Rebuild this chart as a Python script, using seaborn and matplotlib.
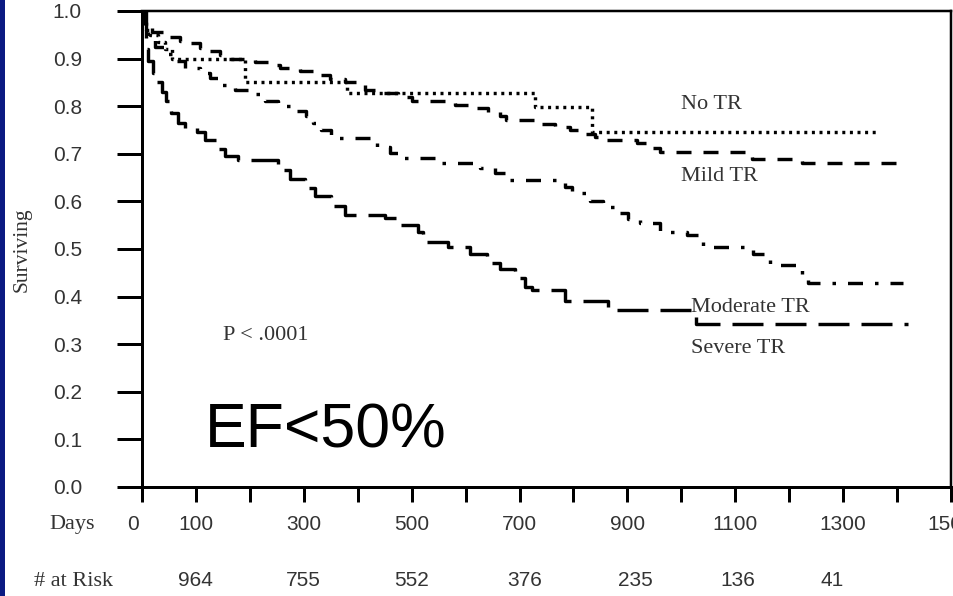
import numpy as np
import pandas as pd
import matplotlib
matplotlib.use("Agg")
import matplotlib.pyplot as plt
from matplotlib.patches import Rectangle
from matplotlib.transforms import ScaledTranslation
import seaborn as sns

# ---------------- data ----------------
no_tr_days = [0, 2, 7, 15, 30, 43, 56, 191, 380, 729, 834, 1365]
no_tr_surv = [1.0, 0.98, 0.96, 0.95, 0.935, 0.92, 0.90, 0.85, 0.828, 0.798, 0.746, 0.746]

mild_days = [0, 6, 19, 52, 70, 89, 108, 126, 145, 156, 210, 234, 256, 293, 321, 349,
             376, 413, 441, 475, 501, 580, 608, 642, 664, 675, 738, 766, 794, 812,
             840, 859, 918, 942, 960, 1131, 1224, 1411]
mild_surv = [1.0, 0.965, 0.955, 0.945, 0.938, 0.932, 0.922, 0.915, 0.908, 0.90, 0.893,
             0.886, 0.88, 0.874, 0.866, 0.858, 0.85, 0.835, 0.828, 0.82, 0.81, 0.803,
             0.796, 0.788, 0.78, 0.77, 0.762, 0.756, 0.75, 0.742, 0.735, 0.729, 0.722,
             0.712, 0.704, 0.69, 0.681, 0.681]

moderate_days = [0, 2, 11, 24, 48, 63, 80, 108, 126, 145, 172, 200, 228, 252, 286, 304,
                 317, 332, 350, 363, 436, 460, 478, 553, 627, 655, 673, 784, 797, 831,
                 855, 883, 901, 923, 960, 1011, 1040, 1133, 1164, 1224, 1235, 1411]
moderate_surv = [1.0, 0.96, 0.94, 0.925, 0.91, 0.895, 0.88, 0.87, 0.86, 0.845, 0.835,
                 0.825, 0.81, 0.80, 0.79, 0.78, 0.765, 0.75, 0.737, 0.733, 0.714, 0.702,
                 0.692, 0.681, 0.67, 0.66, 0.646, 0.63, 0.618, 0.60, 0.588, 0.575, 0.562,
                 0.555, 0.536, 0.529, 0.504, 0.49, 0.466, 0.445, 0.429, 0.429]

severe_days = [0, 7, 11, 20, 28, 37, 45, 54, 67, 80, 102, 117, 137, 154, 178, 252, 274,
               302, 321, 350, 376, 451, 475, 512, 521, 567, 608, 640, 664, 692, 710, 723,
               784, 864, 1027, 1420]
severe_surv = [1.0, 0.92, 0.895, 0.87, 0.85, 0.83, 0.81, 0.785, 0.765, 0.755, 0.745,
               0.73, 0.71, 0.695, 0.688, 0.665, 0.648, 0.628, 0.612, 0.59, 0.572, 0.565,
               0.55, 0.535, 0.515, 0.505, 0.49, 0.47, 0.458, 0.44, 0.42, 0.414, 0.39,
               0.372, 0.342, 0.342]

groups = ["No TR", "Mild TR", "Moderate TR", "Severe TR"]

x_ticks = [0, 100, 200, 300, 400, 500, 600, 700, 800, 900, 1000, 1100, 1200, 1300, 1400, 1500]
x_labels = ["0", "100", "", "300", "", "500", "", "700", "", "900", "", "1100", "", "1300", "", "1500"]
y_ticks = [0.0, 0.1, 0.2, 0.3, 0.4, 0.5, 0.6, 0.7, 0.8, 0.9, 1.0]

risk_days = [100, 300, 500, 710, 915, 1105, 1280]
risk_counts = [964, 755, 552, 376, 235, 136, 41]

# ---------------- build table ----------------
frames = []
for name, d, s in [("No TR", no_tr_days, no_tr_surv),
                   ("Mild TR", mild_days, mild_surv),
                   ("Moderate TR", moderate_days, moderate_surv),
                   ("Severe TR", severe_days, severe_surv)]:
    frames.append(pd.DataFrame({"Days": d, "Surviving": s, "Group": name}))
df = pd.concat(frames, ignore_index=True)

# ---------------- style ----------------
sns.set_theme(style="white")
plt.rcParams["lines.scale_dashes"] = False
plt.rcParams["font.family"] = ["Liberation Sans", "DejaVu Sans"]

W, H, DPI = 954, 596, 100
fig = plt.figure(figsize=(W / DPI, H / DPI), dpi=DPI)
fig.patch.set_facecolor("white")
ax = fig.add_axes([142 / W, 1 - 487 / H, (951 - 142) / W, (487 - 11) / H])

pt = 72 / DPI  # points per pixel
dash_map = {
    "No TR": (3.0 * pt, 4.6 * pt),
    "Mild TR": (15 * pt, 12 * pt),
    "Moderate TR": (15 * pt, 12 * pt, 3.5 * pt, 12 * pt),
    "Severe TR": (31 * pt, 12 * pt),
}

sns.lineplot(data=df, x="Days", y="Surviving", style="Group", style_order=groups,
             dashes=dash_map, color="black", linewidth=3.4 * pt,
             estimator=None, errorbar=None, legend=False,
             drawstyle="steps-post", ax=ax)

ax.set_xlim(0, 1500)
ax.set_ylim(0, 1.0)
ax.set_xlabel("")
ax.set_ylabel("")

for side in ["left", "bottom", "top", "right"]:
    ax.spines[side].set_visible(True)
    ax.spines[side].set_color("black")
ax.spines["left"].set_linewidth(3.0 * pt)
ax.spines["bottom"].set_linewidth(3.0 * pt)
ax.spines["top"].set_linewidth(2.5 * pt)
ax.spines["right"].set_linewidth(2.5 * pt)

tick_color = "#333333"
ax.set_yticks(y_ticks)
ax.set_yticklabels([f"{v:.1f}" for v in y_ticks])
ax.tick_params(axis="y", direction="out", length=25 * pt, width=3 * pt, pad=35 * pt,
               labelsize=15, labelcolor=tick_color, color="black", left=True)
ax.set_xticks(x_ticks)
ax.set_xticklabels(x_labels)
ax.tick_params(axis="x", direction="out", length=15 * pt, width=3 * pt, pad=12.5 * pt,
               labelsize=15, labelcolor=tick_color, color="black", bottom=True)
# shift "0" slightly left as in the reference
lab0 = ax.get_xticklabels()[0]
lab0.set_transform(lab0.get_transform() + ScaledTranslation(-9 / DPI, 0, fig.dpi_scale_trans))

serif = ["Liberation Serif", "DejaVu Serif"]
txt_color = "#333333"

# axis captions
fig.text(22 / W, 1 - 250 / H, "Surviving", rotation=90, ha="center", va="center",
         fontsize=15.5, family=serif, color=txt_color)
fig.text(72 / W, 1 - 525 / H, "Days", ha="center", va="center",
         fontsize=16, family=serif, color=txt_color)
fig.text(74 / W, 1 - 581 / H, "# at Risk", ha="center", va="center",
         fontsize=16, family=serif, color=txt_color)

# at-risk numbers below the axis
for d, n in zip(risk_days, risk_counts):
    ax.annotate(str(n), xy=(d, 0), xycoords=("data", "axes fraction"),
                xytext=(0, -(580 - 487) * pt), textcoords="offset points",
                ha="center", va="center", fontsize=15, color=tick_color)

# curve labels
ax.text(1000, 0.803, "No TR", ha="left", va="center", fontsize=16, family=serif, color=txt_color)
ax.text(1000, 0.653, "Mild TR", ha="left", va="center", fontsize=16, family=serif, color=txt_color)
ax.text(1017, 0.378, "Moderate TR", ha="left", va="center", fontsize=16, family=serif, color=txt_color)
ax.text(1017, 0.29, "Severe TR", ha="left", va="center", fontsize=16, family=serif, color=txt_color)
ax.text(150, 0.319, "P < .0001", ha="left", va="center", fontsize=16, family=serif, color=txt_color)

ax.text(117, 0.118, "EF<50%", ha="left", va="center", fontsize=45, color="black")

# blue slide strip on the left edge
fig.patches.append(Rectangle((0, 0), 5 / W, 1, transform=fig.transFigure,
                             facecolor="#0b1a82", edgecolor="none", zorder=0))

fig.savefig("out.png", dpi=DPI, facecolor="white")
